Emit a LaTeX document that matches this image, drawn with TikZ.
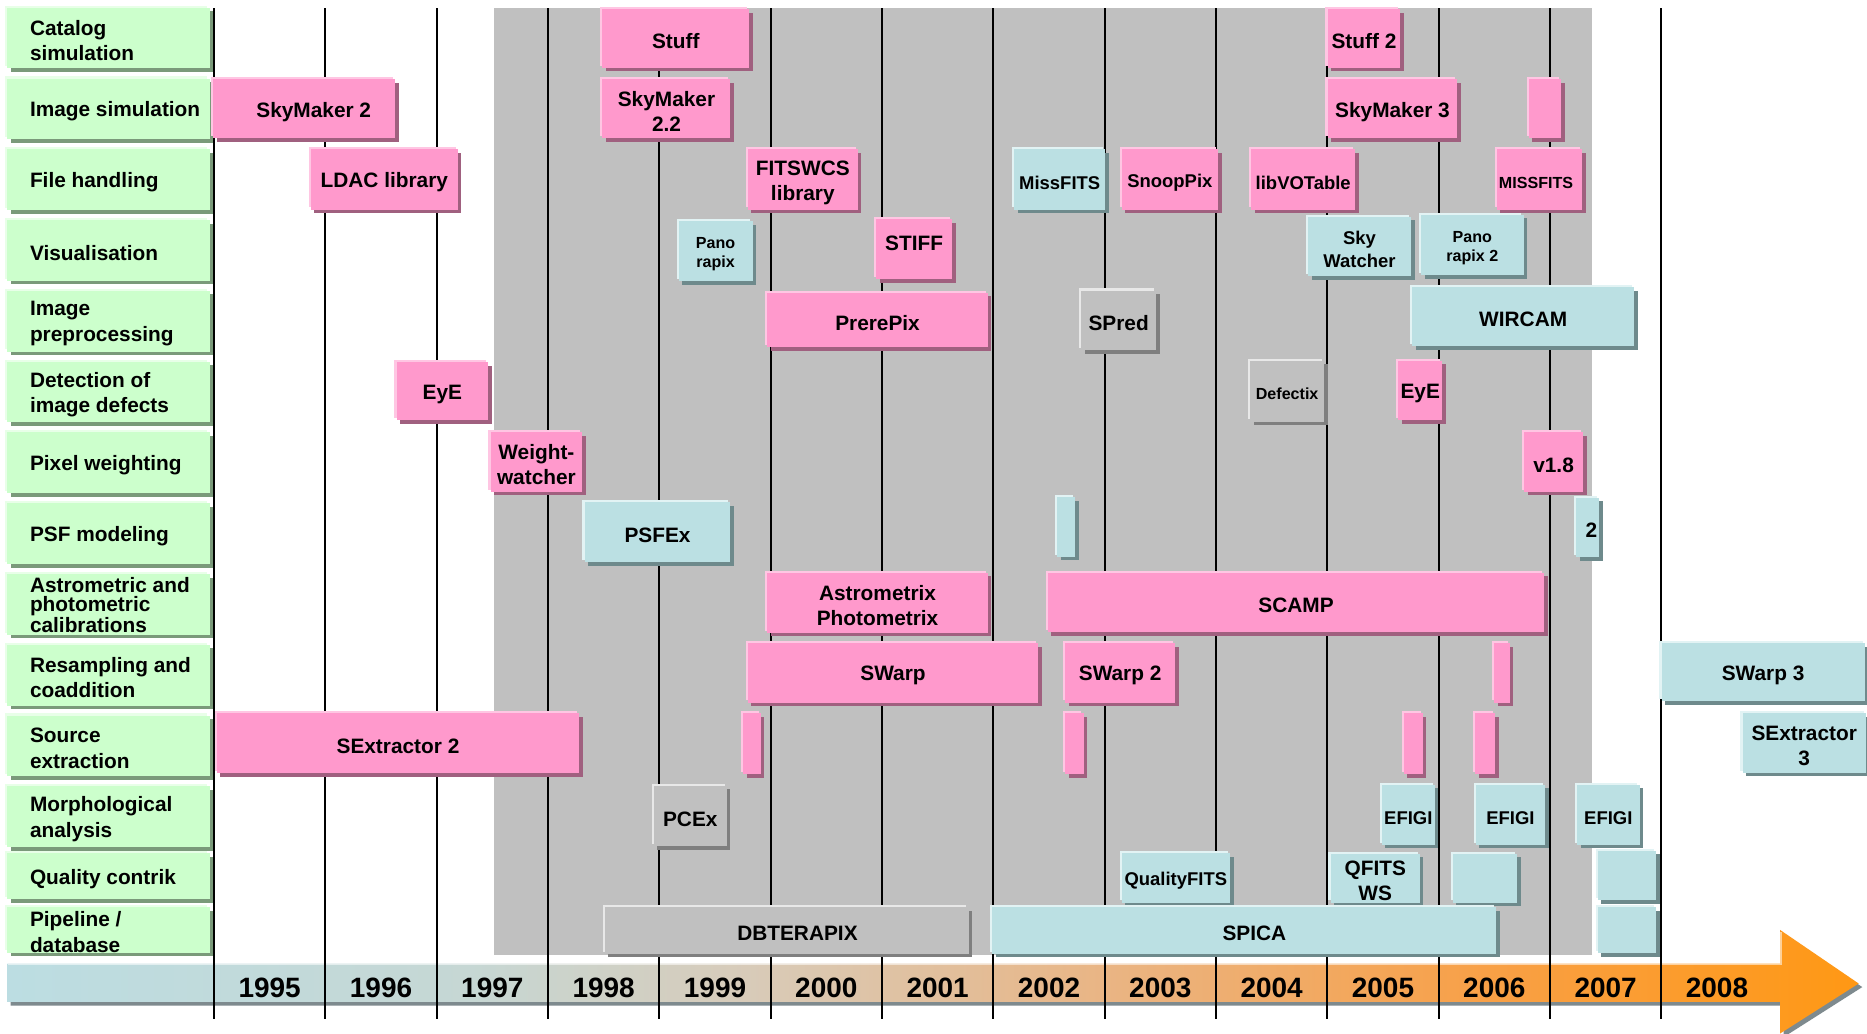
\documentclass[tikz,border=0pt]{standalone}
\usepackage{fontspec}
\setmainfont{Liberation Sans}
\definecolor{pkfill}{HTML}{FF99CC}
\definecolor{pkhl}{HTML}{FFC6E3}
\definecolor{pksh}{HTML}{A0607F}
\definecolor{blfill}{HTML}{BBE0E3}
\definecolor{blhl}{HTML}{E2F3F4}
\definecolor{blsh}{HTML}{6E8A8C}
\definecolor{gyfill}{HTML}{C0C0C0}
\definecolor{gyhl}{HTML}{E8E8E8}
\definecolor{gysh}{HTML}{7F7F7F}
\definecolor{grfill}{HTML}{CCFFCC}
\definecolor{grhl}{HTML}{E8FFE8}
\definecolor{grsh}{HTML}{7A9A7A}
\definecolor{region}{HTML}{C0C0C0}
\definecolor{arsh}{HTML}{7E8A8E}
\pgfdeclarehorizontalshading{arrowshade}{100bp}{rgb(0bp)=(0.737,0.867,0.886); rgb(25bp)=(0.737,0.867,0.886); rgb(37.5bp)=(0.776,0.843,0.831); rgb(45bp)=(0.847,0.796,0.725); rgb(55bp)=(0.918,0.706,0.510); rgb(65bp)=(0.973,0.627,0.275); rgb(75bp)=(1,0.596,0.078); rgb(100bp)=(1,0.596,0.078)}
\newcommand\fA{\fontsize{17.5}{21}\selectfont\bfseries}
\newcommand\fB{\fontsize{15.5}{19}\selectfont\bfseries}
\newcommand\fC{\fontsize{13.5}{16.5}\selectfont\bfseries}
\newcommand\fL{\fontsize{17.5}{21.5}\selectfont\bfseries}
\newcommand\fY{\fontsize{23.5}{24}\selectfont\bfseries}
\newcommand\pan[5]{%
  \fill[#1hl] (#2-1.8,#3-1.8) rectangle (#4-1.8,#5-1.8);
  \fill[#1sh] (#2+3,#3+3) rectangle (#4+3,#5+3);
  \fill[#1fill] (#2,#3) rectangle (#4,#5);
}
\newcommand\bx[8][]{%
  \pan{#3}{#4}{#5}{#6}{#7}
  \node[box,#1] (#2) at ({(#4+#6)/2},{(#5+#7)/2}) {#8};
}
\tikzset{
  box/.style={inner sep=0pt, outer sep=0pt, align=center, font=\fA, text=black, yshift=-2.5pt},
  lbl/.style={inner sep=0pt, anchor=west, align=left, font=\fL, text=black, yshift=-2pt},
  yr/.style={inner sep=0pt, font=\fY, text=black},
  yline/.style={line width=1.8pt, black}
}
\begin{document}
\begin{tikzpicture}[x=1pt,y=-1pt]
\useasboundingbox (0,0) rectangle (1568,868);
\fill[white] (0,0) rectangle (1568,868);
% grey period region
\fill[region] (414.5,7) rectangle (1337,802);
% time arrow
\fill[arsh] (9,812) -- (1498,812) -- (1498,784) -- (1564,829) -- (1498,871) -- (1498,844.5) -- (9,844.5) -- cycle;
\shade[shading=arrowshade] (6.5,809) -- (1495,809) -- (1495,781) -- (1561,826) -- (1495,868) -- (1495,841.5) -- (6.5,841.5) -- cycle;
\draw[white, opacity=0.55, line width=1.5pt] (7,809.7) -- (1495.7,809.7) -- (1495.7,782.5);
% year dividers
\foreach \k in {0,...,13} \draw[yline] ({179.7+93.5*\k},7) -- ({179.7+93.5*\k},856);
% category labels
\pan{gr}{6}{6.5}{176}{57.5}
\pan{gr}{6}{66}{176}{117}
\pan{gr}{6}{125.4}{176}{176.4}
\pan{gr}{6}{184.9}{176}{235.9}
\pan{gr}{6}{244.3}{176}{295.3}
\pan{gr}{6}{303.8}{176}{354.8}
\pan{gr}{6}{363.2}{176}{414.2}
\pan{gr}{6}{422.7}{176}{473.7}
\pan{gr}{6}{482.1}{176}{533.1}
\pan{gr}{6}{541.6}{176}{592.6}
\pan{gr}{6}{601}{176}{652}
\pan{gr}{6}{660.5}{176}{711.5}
\pan{gr}{6}{716.5}{176}{755}
\pan{gr}{6}{762}{176}{800}
\node[lbl] (l1) at (25,32) {Catalog\\simulation};
\node[lbl] (l2) at (25,91.5) {Image simulation};
\node[lbl] (l3) at (25,150.9) {File handling};
\node[lbl] (l4) at (25,210.4) {Visualisation};
\node[lbl] (l5) at (25,269.8) {Image\\preprocessing};
\node[lbl] (l6) at (25,329.3) {Detection of\\image defects};
\node[lbl] (l7) at (25,388.7) {Pixel weighting};
\node[lbl] (l8) at (25,448.2) {PSF modeling};
\node[lbl, font=\fontsize{17.5}{16}\selectfont\bfseries] (l9) at (25,506) {Astrometric and\\photometric\\calibrations};
\node[lbl] (l10) at (25,567.1) {Resampling and\\coaddition};
\node[lbl] (l11) at (25,626.5) {Source\\extraction};
\node[lbl] (l12) at (25,686) {Morphological\\analysis};
\node[lbl] (l13) at (25,736) {Quality contrik};
\node[lbl] (l14) at (25,781) {Pipeline /\\database};
% row 1
\bx{stuff}{pk}{506}{7.5}{629}{57}{Stuff}
\bx{stuffb}{pk}{1115}{7.5}{1176}{57}{Stuff 2}
% row 2
\bx[xshift=8pt]{skya}{pk}{179}{66.5}{332}{116}{SkyMaker 2}
\bx{skyb}{pk}{506}{66.5}{613.5}{116}{SkyMaker\\2.2}
\bx{skyc}{pk}{1115}{66.5}{1224}{116}{SkyMaker 3}
\pan{pk}{1284}{66.5}{1311}{116}
% row 3
\bx{ldac}{pk}{261}{125.5}{384.5}{176}{LDAC library}
\bx{fitswcs}{pk}{628}{125.5}{720.5}{176}{FITSWCS\\library}
\bx[font=\fB]{missfits}{bl}{852}{125.5}{928}{176}{MissFITS}
\bx[font=\fB]{snoop}{pk}{942}{125.5}{1023}{176}{SnoopPix}
\bx[font=\fB]{libvo}{pk}{1051}{125.5}{1138}{176}{libVOTable}
\bx[font=\fC,xshift=-3pt]{missfitsb}{pk}{1257}{125.5}{1329}{176}{MISSFITS}
% row 4
\bx[font=\fC]{pano}{bl}{570}{186}{632}{236}{Pano\\rapix}
\bx[yshift=7pt]{stiff}{pk}{736}{184}{799.5}{234.5}{STIFF}
\bx[font=\fB]{skywatch}{bl}{1098.5}{182}{1185}{232}{Sky\\Watcher}
\bx[font=\fC]{panob}{bl}{1193.5}{180.5}{1279.5}{231}{Pano\\rapix 2}
% row 5
\bx{prere}{pk}{644.5}{246}{829.5}{291.5}{PrerePix}
\bx{spred}{gy}{908}{244}{971}{294}{SPred}
\bx{wircam}{bl}{1186}{241}{1372.5}{291}{WIRCAM}
% row 6
\bx{eye}{pk}{333}{304}{410}{353}{EyE}
\bx[font=\fC]{defectix}{gy}{1050}{303}{1112}{354}{Defectix}
\bx{eyeb}{pk}{1174.5}{303}{1211}{353}{EyE}
% row 7
\bx{weight}{pk}{412}{363}{489}{413}{Weight-\\watcher}
\bx{vone}{pk}{1280}{363}{1329.5}{413}{v1.8}
% row 8
\bx{psfex}{bl}{491}{422}{613.5}{472}{PSFEx}
\pan{bl}{888}{417.5}{903}{467.5}
\bx[xshift=3pt]{psfexb}{bl}{1324}{418}{1343}{468}{2}
% row 9
\bx{astro}{pk}{644.5}{481}{829.5}{531.5}{Astrometrix\\Photometrix}
\bx{scamp}{pk}{880}{481}{1297}{531}{SCAMP}
% row 10
\bx{swarp}{pk}{628}{540}{872}{590}{SWarp}
\bx{swarpb}{pk}{894.5}{540}{987}{590}{SWarp 2}
\pan{pk}{1255}{540}{1268}{590}
\bx{swarpc}{bl}{1395.5}{540}{1566}{589}{SWarp 3}
% row 11
\bx{sexa}{pk}{182}{599}{486.5}{649.5}{SExtractor 2}
\pan{pk}{624}{599}{639}{650}
\pan{pk}{894.5}{599}{910}{650}
\pan{pk}{1179}{599}{1195}{650}
\pan{pk}{1239}{599}{1255.5}{650}
\bx{sexb}{bl}{1463.5}{599}{1567}{649}{SExtractor\\3}
% row 12
\bx{pcex}{gy}{549}{660}{610.5}{710.5}{PCEx}
\bx[font=\fB]{efigia}{bl}{1160.5}{659}{1205}{709.5}{EFIGI}
\bx[font=\fB]{efigib}{bl}{1239.5}{659}{1297.5}{709.5}{EFIGI}
\bx[font=\fB]{efigic}{bl}{1324.5}{659}{1377}{709.5}{EFIGI}
% row 13
\bx[font=\fB]{qfits}{bl}{942}{716.5}{1033}{758}{QualityFITS}
\bx{qfitsws}{bl}{1117.5}{717}{1192.5}{758}{QFITS\\WS}
\pan{bl}{1220}{717}{1274}{758}
\pan{bl}{1342}{714.5}{1391}{756}
% row 14
\bx[xshift=9pt]{dbt}{gy}{508}{762}{813.5}{801}{DBTERAPIX}
\bx[xshift=8.5pt]{spica}{bl}{833.5}{762}{1256.5}{801}{SPICA}
\pan{bl}{1342}{762}{1391}{800.5}
% years
\foreach \y [count=\k from 0] in {1995,1996,1997,1998,1999,2000,2001,2002,2003,2004,2005,2006,2007,2008}
  \node[yr] (y\y) at ({226.5+93.5*\k},829.5) {\y};
\end{tikzpicture}
\end{document}
